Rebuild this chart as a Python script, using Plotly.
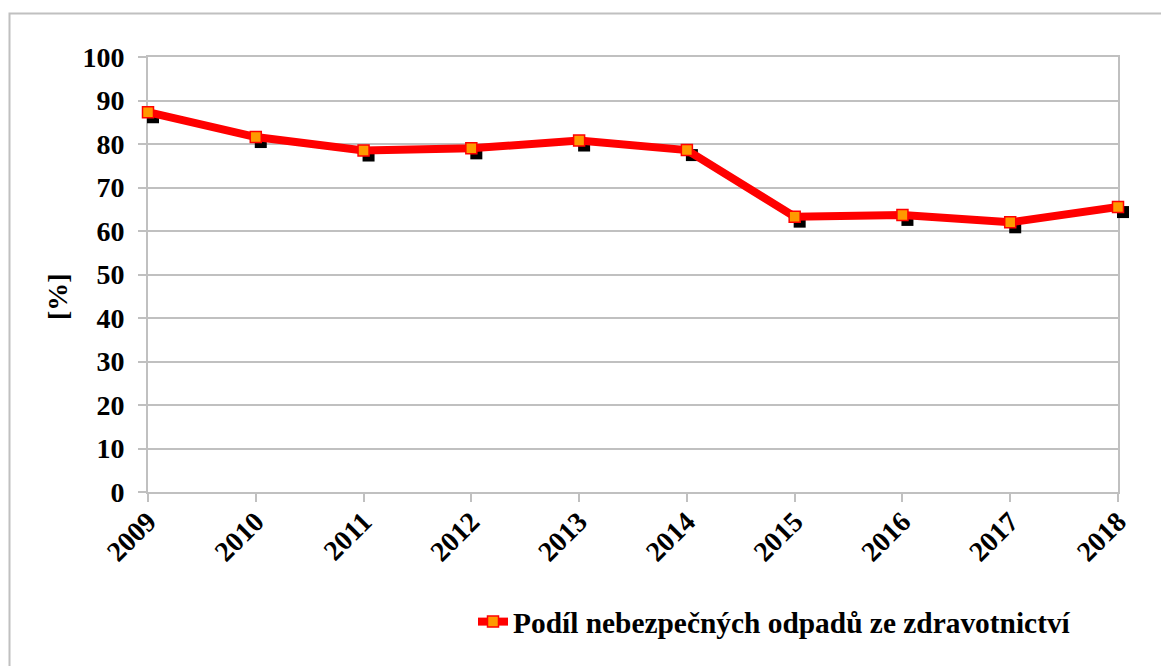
import plotly.graph_objects as go

years = [2009, 2010, 2011, 2012, 2013, 2014, 2015, 2016, 2017, 2018]
share = [87.3, 81.6, 78.5, 79.0, 80.8, 78.6, 63.3, 63.7, 62.0, 65.5]
y_ticks = [0, 10, 20, 30, 40, 50, 60, 70, 80, 90, 100]
series_name = "Podíl nebezpečných odpadů ze zdravotnictví"
y_title = "[%]"

W, H = 1161, 666
L, R, T, B = 148, 38, 57, 169
PW = W - L - R   # 975
PH = H - T - B   # 440
SH = 5           # shadow offset in px

FAMILY = "Liberation Serif, Times New Roman, Times, serif"
FONT = dict(family=FAMILY, size=28, color="black", weight="bold")
GRID = "#c0c0c0"

fig = go.Figure()

# empty trace so the grid/axes subplot is drawn
fig.add_trace(go.Scatter(x=[], y=[], xaxis="x", yaxis="y", showlegend=False,
                         hoverinfo="skip"))

# shadow markers
fig.add_trace(go.Scatter(
    x=years, y=share, xaxis="x2", yaxis="y2", mode="markers",
    marker=dict(symbol="square", size=12, color="black"),
    showlegend=False, cliponaxis=False, hoverinfo="skip"))

# main line
fig.add_trace(go.Scatter(
    x=years, y=share, xaxis="x3", yaxis="y3", mode="lines+markers",
    name=series_name,
    line=dict(color="#ff0000", width=8),
    marker=dict(symbol="square", size=11, color="#ff9900",
                line=dict(color="#ff0000", width=1.5)),
    cliponaxis=False))

xr = [2009, 2018]
yr = [0, 100]
main_xd = [0, (PW - SH) / PW]
main_yd = [SH / PH, 1]
sh_xd = [SH / PW, 1]
sh_yd = [0, 1 - SH / PH]

fig.update_layout(
    width=W, height=H,
    margin=dict(l=L, r=R, t=T, b=B, autoexpand=False),
    paper_bgcolor="white",
    plot_bgcolor="rgba(0,0,0,0)",
    font=dict(family=FAMILY),
    xaxis=dict(domain=main_xd, anchor="y", range=xr, tickmode="array",
               tickvals=years, ticktext=[str(y) for y in years],
               tickangle=-45, tickfont=FONT, showgrid=False,
               showline=True, linecolor=GRID, linewidth=2, mirror=True,
               ticks="outside", ticklen=8, tickcolor=GRID, tickwidth=2,
               zeroline=False, ticklabelstandoff=-8),
    yaxis=dict(domain=main_yd, anchor="x", range=yr, tickmode="array",
               tickvals=y_ticks, tickfont=FONT, showgrid=True,
               gridcolor=GRID, gridwidth=2,
               showline=True, linecolor=GRID, linewidth=2, mirror=True,
               ticks="outside", ticklen=8, tickcolor=GRID, tickwidth=2,
               zeroline=False, ticklabelstandoff=8),
    xaxis2=dict(domain=sh_xd, anchor="y2", range=xr, visible=False),
    yaxis2=dict(domain=sh_yd, anchor="x2", range=yr, visible=False),
    xaxis3=dict(domain=main_xd, anchor="y3", range=xr, visible=False),
    yaxis3=dict(domain=main_yd, anchor="x3", range=yr, visible=False),
    annotations=[dict(text=y_title, xref="paper", yref="paper",
                      x=(57 - L) / PW, y=(H - B - 297) / PH,
                      xanchor="center", yanchor="middle", textangle=-90,
                      showarrow=False, font=FONT)],
    showlegend=True,
    legend=dict(orientation="h", xref="container", yref="container",
                x=473 / W, y=1 - 622 / H,
                xanchor="left", yanchor="middle", font=dict(FONT, size=29.4),
                bgcolor="rgba(0,0,0,0)"),
    shapes=[dict(type="rect", xref="paper", yref="paper",
                 x0=(9.5 - L) / PW, x1=(1170 - L) / PW,
                 y0=(H - B - 675) / PH, y1=(H - B - 13.5) / PH,
                 line=dict(color="#c0c0c0", width=2), fillcolor="rgba(0,0,0,0)",
                 layer="below")],
)

fig.write_html("out.html", config={"displayModeBar": False},
               post_script="document.body.style.margin='0';document.body.style.padding='0';")
